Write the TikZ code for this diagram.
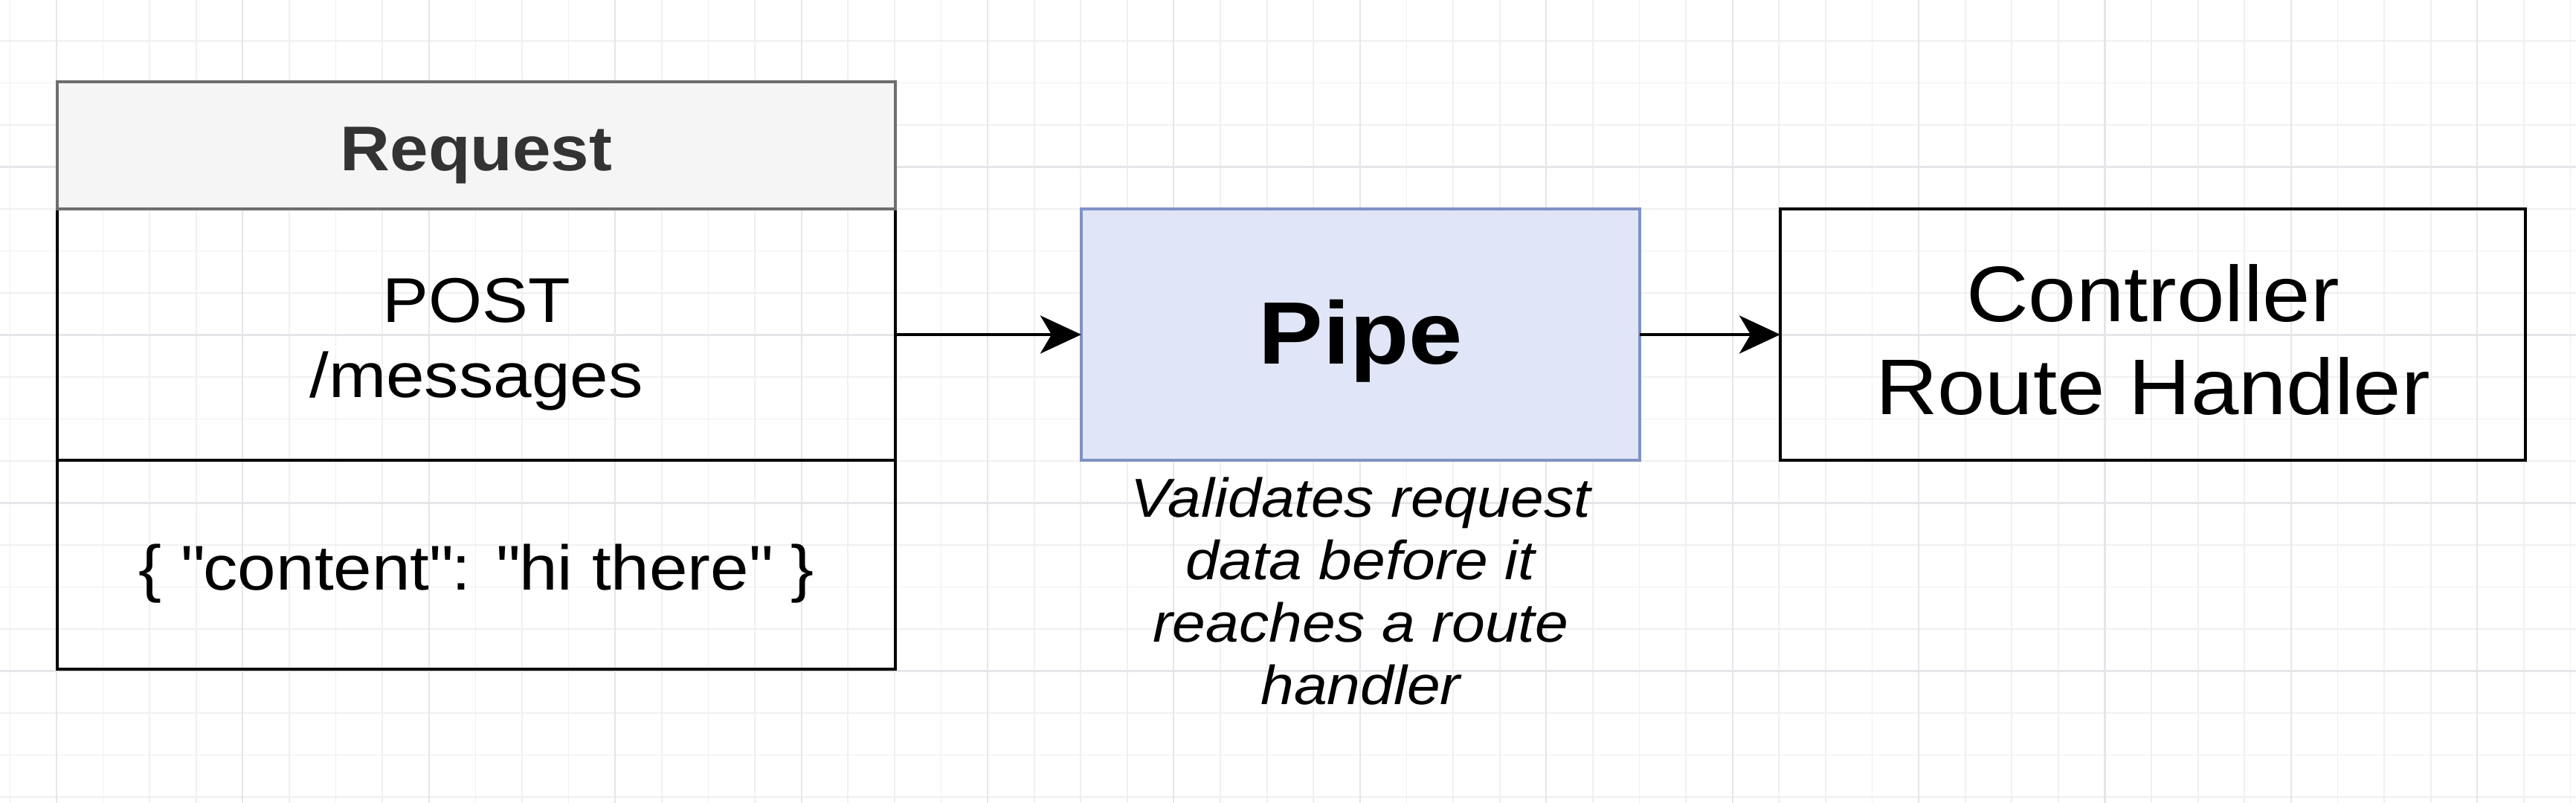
\documentclass[tikz,border=0pt]{standalone}
\usepackage{fontspec}
\setmainfont[FakeStretch=1.09]{Liberation Sans}
\usetikzlibrary{positioning,arrows.meta}
\definecolor{pipefill}{RGB}{224,229,247}
\definecolor{pipeline}{RGB}{128,146,196}
\definecolor{headfill}{RGB}{245,245,245}
\definecolor{headline}{RGB}{110,110,110}
\definecolor{headtext}{RGB}{51,51,51}
\definecolor{gridminor}{RGB}{240,240,242}
\definecolor{gridmajor}{RGB}{230,230,234}

\begin{document}
\begin{tikzpicture}[
    box/.style={draw, line width=1.3pt, outer sep=0pt, inner sep=0pt, align=center,
      text depth=0pt},
    flow/.style={line width=1.3pt, -{Stealth[length=5.5mm, width=5.1mm, inset=1.5mm]}},
    gridline/.style={draw=gridminor, line width=0.5pt},
    majorline/.style={draw=gridmajor, line width=0.6pt}
  ]
    \useasboundingbox (0,0) rectangle (34.64,10.80);
    \fill[white] (0,0) rectangle (34.64,10.80);
    \foreach \i in {0,...,55}
      \draw[gridline] ({0.134+0.626*\i},0) -- ++(0,10.8);
    \foreach \j in {0,...,19}
      \draw[gridline] (0,{10.815-0.565*\j}) -- ++(34.64,0);
    \foreach \i in {1,5,...,53}
      \draw[majorline] ({0.134+0.626*\i},0) -- ++(0,10.8);
    \foreach \j in {0,4,...,16}
      \draw[majorline] (0,{10.815-0.565*\j}) -- ++(34.64,0);

    \node[box, minimum width=11.27cm, minimum height=3.38cm, text height=47.9pt,
      font=\fontsize{24.2}{28.5}\selectfont] (reqline) at (6.405,6.30) {POST\\/messages};
    \node[box, above=0pt of reqline, minimum width=11.27cm, minimum height=1.71cm,
      text height=19.6pt, draw=headline, line width=1.1pt, fill=headfill, text=headtext,
      font=\bfseries\fontsize{24.2}{28.5}\selectfont] (reqhead) {Request};
    \node[box, below=0pt of reqline, minimum width=11.27cm, minimum height=2.81cm,
      text height=19.4pt,
      font=\fontsize{24.2}{28.5}\selectfont] (reqbody) {\{ \textquotedbl content\textquotedbl: \textquotedbl hi there\textquotedbl{} \}};
    \node[box, minimum width=7.51cm, minimum height=3.38cm, text height=22.4pt,
      draw=pipeline, line width=1.1pt, fill=pipefill,
      font=\bfseries\fontsize{33.9}{40}\selectfont] (pipe) at (18.295,6.30) {Pipe};
    \node[box, minimum width=10.02cm, minimum height=3.38cm, text height=61pt,
      font=\fontsize{30.2}{35.6}\selectfont] (ctrl) at (28.95,6.30) {Controller\\Route Handler};
    \node[below=0.22cm of pipe, align=center, inner sep=0pt,
      font=\itshape\fontsize{21}{23.9}\selectfont] (note) {Validates request\\data before it\\reaches a route\\handler};

    \draw[flow] (reqline.east) -- (pipe.west);
    \draw[flow] (pipe.east) -- (ctrl.west);
\end{tikzpicture}
\end{document}
